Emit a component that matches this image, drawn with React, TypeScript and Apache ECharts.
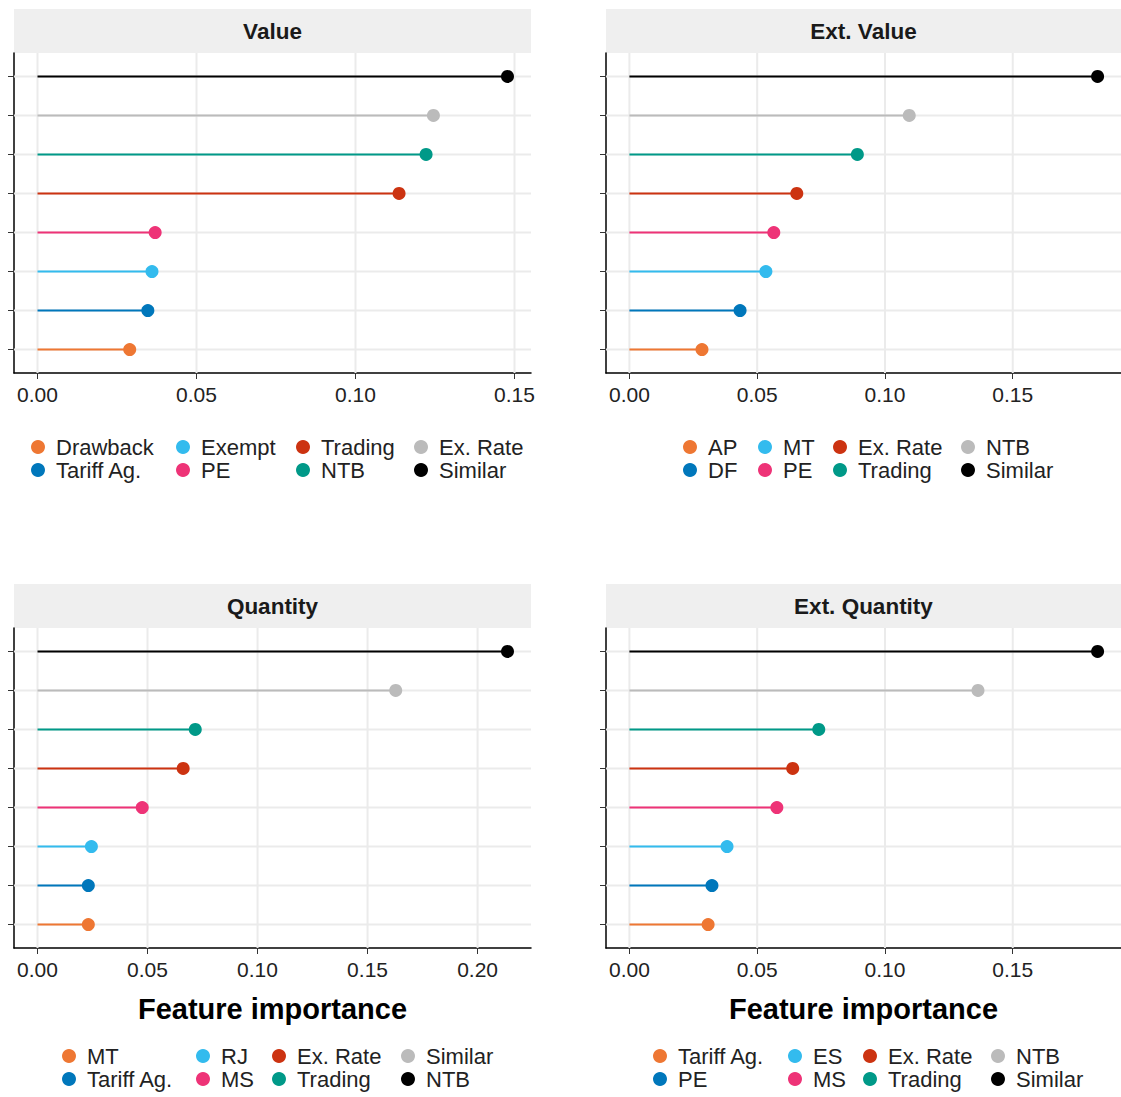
import React, { useEffect, useRef } from 'react';
import * as echarts from 'echarts';

const COLORS = ['#EE7733', '#0077BB', '#33BBEE', '#EE3377', '#CC3311', '#009988', '#BBBBBB', '#000000'];

const titles = ['Value', 'Ext. Value', 'Quantity', 'Ext. Quantity'];
// labels bottom-to-top
const valueLabels = ['Drawback', 'Tariff Ag.', 'Exempt', 'PE', 'Trading', 'NTB', 'Ex. Rate', 'Similar'];
const valueValues = [0.029, 0.0347, 0.036, 0.037, 0.1137, 0.1222, 0.1245, 0.1478];
const extValueLabels = ['AP', 'DF', 'MT', 'PE', 'Ex. Rate', 'Trading', 'NTB', 'Similar'];
const extValueValues = [0.0284, 0.0433, 0.0534, 0.0565, 0.0655, 0.0892, 0.1095, 0.1832];
const quantityLabels = ['MT', 'Tariff Ag.', 'RJ', 'MS', 'Ex. Rate', 'Trading', 'Similar', 'NTB'];
const quantityValues = [0.0231, 0.0231, 0.0245, 0.0476, 0.0662, 0.0717, 0.1628, 0.2136];
const extQuantityLabels = ['Tariff Ag.', 'PE', 'ES', 'MS', 'Ex. Rate', 'Trading', 'NTB', 'Similar'];
const extQuantityValues = [0.0308, 0.0323, 0.0382, 0.0577, 0.0639, 0.0741, 0.1364, 0.1832];
const xTicks = [
  [0, 0.05, 0.1, 0.15],
  [0, 0.05, 0.1, 0.15],
  [0, 0.05, 0.1, 0.15, 0.2],
  [0, 0.05, 0.1, 0.15],
];

const panels = [
  { labels: valueLabels, values: valueValues },
  { labels: extValueLabels, values: extValueValues },
  { labels: quantityLabels, values: quantityValues },
  { labels: extQuantityLabels, values: extQuantityValues },
];

const FONT = 'Liberation Sans';
const grids = [
  { left: 14, top: 53, width: 517, height: 320 },
  { left: 606, top: 53, width: 515, height: 320 },
  { left: 14, top: 628, width: 517, height: 320 },
  { left: 606, top: 628, width: 515, height: 320 },
];
const legendCols = [
  [38, 183, 303, 421],
  [690, 765, 840, 968],
  [69, 203, 279, 408],
  [660, 795, 870, 998],
];
const legendRowY = [448, 448, 1057, 1057];

const App: React.FC = () => {
  const ref = useRef<HTMLDivElement>(null);

  useEffect(() => {
    if (!ref.current) return;
    const chart = echarts.init(ref.current, undefined, { renderer: 'svg' });

    const xAxis: any[] = [];
    const yAxis: any[] = [];
    const series: any[] = [];
    const legend: any[] = [];
    const graphic: any[] = [];

    panels.forEach((p, k) => {
      const max = Math.max(...p.values);
      const xmin = -0.05 * max;
      const xmax = max * 1.05;
      const g = grids[k];
      xAxis.push({
        type: 'value', gridIndex: k, min: xmin, max: xmax,
        axisLine: { show: true, onZero: false, lineStyle: { color: '#000', width: 1.5 } },
        axisTick: { show: true, customValues: xTicks[k], length: 6, lineStyle: { color: '#333' } },
        axisLabel: {
          customValues: xTicks[k], color: '#222', fontSize: 21, fontFamily: FONT, margin: 11,
          formatter: (v: number) => v.toFixed(2),
        },
        splitLine: { show: false },
      });
      yAxis.push({
        type: 'value', gridIndex: k, min: -0.6, max: 7.6,
        axisLine: { show: true, onZero: false, lineStyle: { color: '#000', width: 1.5 } },
        axisTick: { show: true, customValues: [0, 1, 2, 3, 4, 5, 6, 7], length: 6, lineStyle: { color: '#333' } },
        axisLabel: { show: false },
        splitLine: { show: false },
      });
      // gridlines
      const gl: any[] = [];
      xTicks[k].forEach((t) => { gl.push([t, -0.6], [t, 7.6], [null, null]); });
      p.values.forEach((_, i) => { gl.push([xmin, i], [xmax, i], [null, null]); });
      series.push({
        type: 'line', xAxisIndex: k, yAxisIndex: k, data: gl, silent: true, symbol: 'none',
        connectNulls: false, lineStyle: { color: '#EBEBEB', width: 2 }, z: 0,
      });
      p.values.forEach((v, i) => {
        series.push({
          name: p.labels[i] + '|' + k,
          type: 'line', xAxisIndex: k, yAxisIndex: k,
          data: [{ value: [0, i], symbol: 'none' }, { value: [v, i] }],
          symbol: 'circle', symbolSize: 13, showSymbol: true,
          itemStyle: { color: COLORS[i] },
          lineStyle: { color: COLORS[i], width: 2 },
          z: 3,
        });
        const c = Math.floor(i / 2);
        const r = i % 2;
        legend.push({
          left: legendCols[k][c] - 7, top: legendRowY[k] + r * 23 - 12, padding: 0,
          icon: 'circle', itemWidth: 14, itemHeight: 14,
          data: [p.labels[i] + '|' + k],
          formatter: (n: string) => n.split('|')[0],
          textStyle: { fontSize: 22, color: '#222', fontFamily: FONT, padding: [0, 0, 0, 6] },
          selectedMode: false,
        });
      });
      graphic.push({
        type: 'rect', shape: { x: g.left, y: g.top - 44, width: g.width, height: 44 },
        style: { fill: '#EFEFEF' },
      });
      graphic.push({
        type: 'text', x: g.left + g.width / 2, y: g.top - 22,
        style: { text: titles[k], fontSize: 22.5, fontWeight: 'bold', fontFamily: FONT, fill: '#1a1a1a', align: 'center', verticalAlign: 'middle' },
      });
      if (k >= 2) {
        graphic.push({
          type: 'text', x: g.left + g.width / 2, y: 1009,
          style: { text: 'Feature importance', fontSize: 29, fontWeight: 'bold', fontFamily: FONT, fill: '#000', align: 'center', verticalAlign: 'middle' },
        });
      }
    });

    chart.setOption({
      animation: false,
      backgroundColor: '#fff',
      grid: grids,
      xAxis, yAxis, series, legend, graphic,
    });
    return () => chart.dispose();
  }, []);

  return <div ref={ref} style={{ width: 1121, height: 1097, position: 'fixed', left: 0, top: 0 }} />;
};

export default App;
